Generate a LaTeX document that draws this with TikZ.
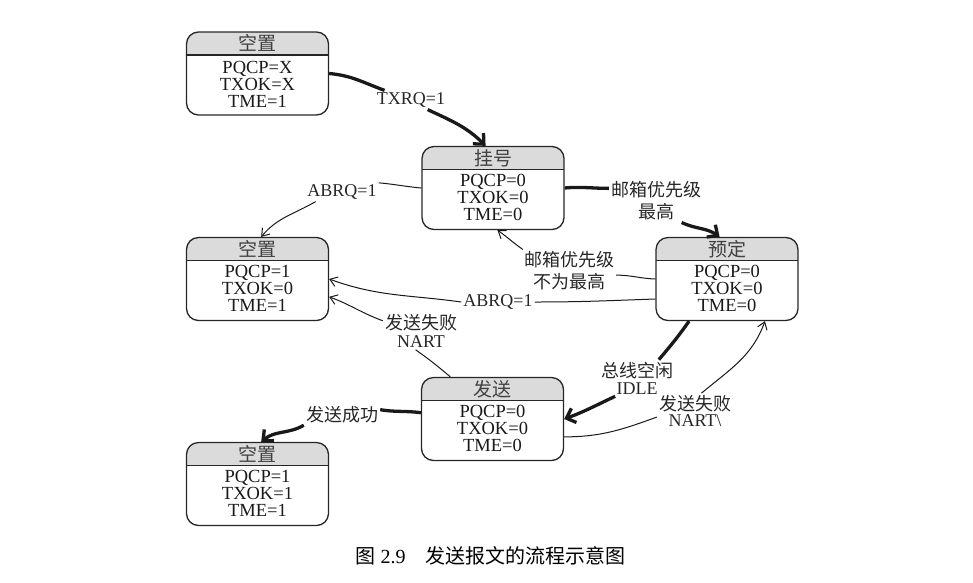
\documentclass[tikz,border=0pt]{standalone}
\usepackage{fontspec}
\setmainfont{Liberation Serif}
\newfontfamily\cjk{Noto Sans CJK SC}
\usetikzlibrary{arrows.meta}

\begin{document}
\begin{tikzpicture}[x=1pt,y=1pt,
        statebox/.style={draw=black!85,line width=1.3pt,rounded corners=12pt,
            minimum width=142pt,minimum height=83pt,inner sep=0pt,
            path picture={
                \fill[black!14,sharp corners] (path picture bounding box.north west) rectangle
                    ([yshift=-23pt]path picture bounding box.north east);
                \draw[black!85,line width=1.3pt,sharp corners]
                    ([yshift=-23pt]path picture bounding box.north west) --
                    ([yshift=-23pt]path picture bounding box.north east);}},
        titletext/.style={font=\cjk\fontsize{19}{19}\selectfont,text=black!75,inner sep=1pt},
        bodytext/.style={font=\fontsize{18.5}{17}\selectfont,text=black!90,align=center,inner sep=0pt},
        cond/.style={font=\fontsize{18}{20}\selectfont,text=black!85,align=center,inner sep=2pt},
        heavy/.style={draw=black!90,line width=3.3pt},
        heavyarr/.style={heavy,-{Straight Barb[length=8pt,width=15pt]}},
        light/.style={draw=black!90,line width=1pt},
        lightarr/.style={light,-{Straight Barb[length=7pt,width=10pt]}}]
    \useasboundingbox (0,0) rectangle (973,-582);
    \begin{scope}[every node/.style={statebox}]
        \node (K1) at (257.5,-73.5) {};
        \node (G) at (493,-188) {};
        \node (K2) at (257.5,-279) {};
        \node (Y) at (727,-279) {};
        \node (S) at (492.5,-419) {};
        \node (K3) at (257.5,-484) {};
    \end{scope}
    % titles and register values
    \node (K1t) at ([yshift=-12pt]K1.north) [titletext] {空置};
    \node (K1b) at ([yshift=-53pt]K1.north) [bodytext] {PQCP=X\\TXOK=X\\TME=1};
    \node (Gt) at ([yshift=-12pt]G.north) [titletext] {挂号};
    \node (Gb) at ([yshift=-52pt]G.north) [bodytext] {PQCP=0\\TXOK=0\\TME=0};
    \node (K2t) at ([yshift=-12pt]K2.north) [titletext] {空置};
    \node (K2b) at ([yshift=-52pt]K2.north) [bodytext] {PQCP=1\\TXOK=0\\TME=1};
    \node (Yt) at ([yshift=-12pt]Y.north) [titletext] {预定};
    \node (Yb) at ([yshift=-52pt]Y.north) [bodytext] {PQCP=0\\TXOK=0\\TME=0};
    \node (St) at ([yshift=-12pt]S.north) [titletext] {发送};
    \node (Sb) at ([yshift=-52pt]S.north) [bodytext] {PQCP=0\\TXOK=0\\TME=0};
    \node (K3t) at ([yshift=-12pt]K3.north) [titletext] {空置};
    \node (K3b) at ([yshift=-52pt]K3.north) [bodytext] {PQCP=1\\TXOK=1\\TME=1};
    % conditions
    \node (TXRQ) at (411,-100) [cond] {TXRQ=1};
    \node (ABRQa) at (342,-192) [cond] {ABRQ=1};
    \node (ZG) at (656,-201) [cond] {{\cjk 邮箱优先级}\\[2pt]{\cjk 最高}};
    \node (BWZG) at (569,-271) [cond] {{\cjk 邮箱优先级}\\[2pt]{\cjk 不为最高}};
    \node (ABRQb) at (498,-302) [cond] {ABRQ=1};
    \node (NARTa) at (421,-331) [cond] {{\cjk 发送失败}\\[-2pt]NART};
    \node (IDLE) at (637,-378) [cond] {{\cjk 总线空闲}\\[-3pt]IDLE};
    \node (NARTb) at (695,-411) [cond] {{\cjk 发送失败}\\[-4pt]NART\textbackslash};
    \node (CG) at (342,-415) [cond] {{\cjk 发送成功}};
    \node (CAP) at (490.5,-556) [font=\fontsize{20}{20}\selectfont]
        {{\cjk 图} 2.9\quad{\cjk 发送报文的流程示意图}};
    % transitions
    \path (K1.east) edge[heavy,out=-5,in=160] (TXRQ.160)
          (TXRQ.-30) edge[heavyarr,out=-25,in=135] (G.100);
    \path (G.west) edge[light,out=175,in=-5] (ABRQa.14)
          (ABRQa.-160) edge[lightarr,out=-150,in=50] (K2.85);
    \path (G.east) edge[heavy,out=5,in=180] (ZG.165)
          (ZG.-40) edge[heavyarr,out=-25,in=145] (Y.100);
    \path (Y.west) edge[light,out=178,in=0] (BWZG.-5)
          (BWZG.155) edge[lightarr,out=145,in=-35] (G.-84);
    \path ([yshift=-20pt]Y.west) edge[light,out=182,in=0] (ABRQb.east)
          (ABRQb.west) edge[lightarr,out=172,in=-20] (K2.east);
    \path (NARTa.-106) edge[light,out=-35,in=140] (S.135)
          (NARTa.165) edge[lightarr,out=160,in=-20] (K2.-14);
    \path (Y.-132) edge[heavy,out=-125,in=50] (IDLE.40)
          (IDLE.-140) edge[heavyarr,out=-155,in=20] (S.east);
    \path (S.-14) edge[light,out=0,in=200] (NARTb.-171)
          (NARTb.70) edge[lightarr,out=40,in=-110] (Y.-48);
    \path (S.175) edge[heavy,out=172,in=-10] (CG.8)
          (CG.-165) edge[heavyarr,out=-150,in=40] (K3.85);
\end{tikzpicture}
\end{document}
